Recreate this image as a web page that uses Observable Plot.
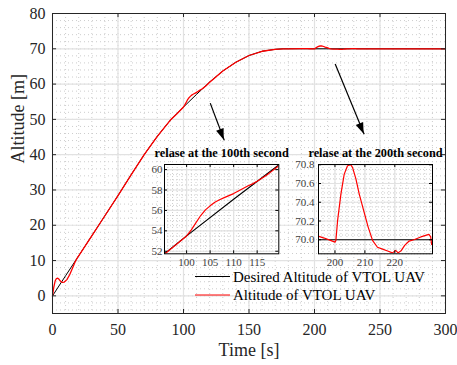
<!DOCTYPE html>
<html><head><meta charset="utf-8">
<script src="https://cdn.jsdelivr.net/npm/d3@7"></script>
<script src="https://cdn.jsdelivr.net/npm/@observablehq/plot@0.6"></script>
<style>
body{margin:0;background:#fff;}
#wrap{position:relative;width:457px;height:365px;overflow:hidden;font-family:"Liberation Serif","Times New Roman",serif;background:#fff;}
#wrap svg{position:absolute;}
</style></head><body><div id="wrap"></div>
<script>
// ---- data ----
const desiredT = [0,10,20,30,40,50,60,70,80,90,100,110,120,130,140,150,160,170,176,180,300];
const desiredY = [0,5.7,11.35,17.0,22.7,28.4,34.3,40.0,45.2,49.8,53.5,57.1,60.6,63.7,66.2,68.1,69.3,69.85,70,70,70];

const actualT = [0,1,2,3,4,5,6,7.5,9,11,13,15,17,19,20,30,40,50,60,70,80,90,95,100,101,102,103,104,105,106,107,108,109,110,111,112,113,114,115,116,117,118,119,120,130,140,150,160,170,176,180,190,194.6,196.4,198.7,200,200.3,200.9,202,203.1,204.2,205.3,205.9,207,208.1,209.6,211.1,212.6,214.2,215.9,217.6,219.2,220.3,221.1,222.2,223.3,224.8,226.4,228.7,231.4,232,232.3,235,240,245,250,255,260,270,280,290,300];
const actualY = [0,2.5,4.2,4.9,5.0,4.7,4.2,3.8,3.9,4.6,5.9,7.6,9.4,10.8,11.35,17.0,22.7,28.4,34.3,40.0,45.2,49.8,51.6,53.5,54.1,54.8,55.5,56.05,56.45,56.8,57.05,57.25,57.45,57.65,57.9,58.15,58.4,58.6,58.85,59.15,59.45,59.8,60.15,60.55,63.7,66.2,68.1,69.3,69.85,70.0,70.0,70.03,70.036,70.018,69.99,69.975,69.99,70.21,70.49,70.70,70.79,70.80,70.77,70.65,70.49,70.31,70.135,69.99,69.92,69.90,69.88,69.86,69.886,69.86,69.886,69.94,69.986,70.0,70.03,70.057,70.03,69.95,69.97,69.95,69.98,70.0,69.96,69.98,69.96,69.98,69.95,69.98];

const mainXTicks = [0,50,100,150,200,250,300];
const mainYTicks = [0,10,20,30,40,50,60,70,80];
const inset1XTicks = [100,105,110,115];
const inset1YTicks = [52,54,56,58,60];
const inset2XTicks = [200,210,220];
const inset2YTicks = [70,70.2,70.4,70.6,70.8];
const insetTitles = ["relase at the 100th second","relase at the 200th second"];
const legendLabels = ["Desired Altitude of VTOL UAV","Altitude of VTOL UAV"];
const axisLabels = ["Time [s]","Altitude [m]"];
// annotation arrows (in data coordinates of the main axes)
const arrowX1 = [120.4,215.8], arrowY1 = [54.6,65.7];
const arrowX2 = [131.1,237.9], arrowY2 = [44.1,45.8];

// ---- build ----
const desired = desiredT.map((t,i)=>({t, y:desiredY[i]}));
const actual = actualT.map((t,i)=>({t, y:actualY[i]}));
const arrows = arrowX1.map((x,i)=>({x1:x,y1:arrowY1[i],x2:arrowX2[i],y2:arrowY2[i]}));
const FONT = "Liberation Serif, Times New Roman, serif";
const wrap = document.getElementById("wrap");
const RED = "#ff0000", INK = "#262626";
const MINOR = "#cdcdcd", MAJOR = "#e2e2e2";

const mW = 457, mH = 365, mL = 52, mR = 12, mT = 13, mB = 52;
const fw = mW - mL - mR, fh = mH - mT - mB;
const main = Plot.plot({
  width: mW, height: mH, marginLeft: mL, marginRight: mR, marginTop: mT, marginBottom: mB,
  style: {background: "white", fontFamily: FONT, overflow: "visible", color: INK},
  x: {domain: [0,300]}, y: {domain: [-5,80]},
  marks: [
    Plot.gridX(d3.range(0,301,10), {stroke:MINOR, strokeOpacity:1, strokeDasharray:"1,3"}),
    Plot.gridY(d3.range(-4,81,2), {stroke:MINOR, strokeOpacity:1, strokeDasharray:"1,3"}),
    Plot.gridX(mainXTicks, {stroke:MAJOR, strokeOpacity:1, strokeWidth:1.2}),
    Plot.gridY(mainYTicks, {stroke:MAJOR, strokeOpacity:1, strokeWidth:1.2}),
    Plot.line(desired, {x:"t", y:"y", stroke:"#000", strokeWidth:1}),
    Plot.line(actual, {x:"t", y:"y", stroke:RED, strokeWidth:1.3}),
    Plot.frame({stroke:INK, strokeWidth:1}),
    Plot.tickX(mainXTicks, {x:d=>d, insetTop: fh-4, stroke:INK}),
    Plot.tickX(mainXTicks, {x:d=>d, insetBottom: fh-4, stroke:INK}),
    Plot.tickY(mainYTicks, {y:d=>d, insetRight: fw-4, stroke:INK}),
    Plot.tickY(mainYTicks, {y:d=>d, insetLeft: fw-4, stroke:INK}),
    Plot.axisX(mainXTicks, {tickSize:0, tickPadding:10, fontSize:16, label:null, fill:INK}),
    Plot.axisY(mainYTicks, {tickSize:0, tickPadding:7, fontSize:16, label:null, fill:INK}),
    Plot.link(arrows, {x1:"x1", y1:"y1", x2:"x2", y2:"y2", stroke:"#000", strokeWidth:1.2}),
    Plot.text([axisLabels[0]], {frameAnchor:"bottom", dy:42, fontSize:18, fill:INK, text:d=>d}),
    Plot.text([axisLabels[1]], {frameAnchor:"left", dx:-34, rotate:-90, fontSize:18, fill:INK, text:d=>d})
  ]
});
main.style.left = "0px"; main.style.top = "0px";
wrap.appendChild(main);

// filled arrowheads using the main plot's scales
{
  const sx = main.scale("x"), sy = main.scale("y");
  const g = d3.select(main).append("g").attr("fill","#000");
  for (const a of arrows) {
    const x1 = sx.apply(a.x1), y1 = sy.apply(a.y1), x2 = sx.apply(a.x2), y2 = sy.apply(a.y2);
    const dx = x2-x1, dy = y2-y1, L = Math.hypot(dx,dy), ux = dx/L, uy = dy/L;
    const hl = 11, hw = 4;
    const bx = x2-ux*hl, by = y2-uy*hl;
    g.append("path").attr("d", `M${x2},${y2}L${bx-uy*hw},${by+ux*hw}L${bx+uy*hw},${by-ux*hw}Z`);
  }
}

function inset({xd, yd, xt, yt, xminor, yminor, title, fx, fy, fwid, fhei, ml, mr, mt, mb, ypad}) {
  const p = Plot.plot({
    width: ml+fwid+mr, height: mt+fhei+mb, marginLeft: ml, marginRight: mr, marginTop: mt, marginBottom: mb,
    style: {background:"transparent", fontFamily: FONT, overflow:"visible", color:"#404040"},
    x: {domain: xd}, y: {domain: yd},
    marks: [
      Plot.frame({fill:"white"}),
      Plot.gridX(xminor, {stroke:MINOR, strokeOpacity:1, strokeDasharray:"1,2"}),
      Plot.gridY(yminor, {stroke:MINOR, strokeOpacity:1, strokeDasharray:"1,2"}),
      Plot.gridX(xt, {stroke:MAJOR, strokeOpacity:1, strokeWidth:1.2}),
      Plot.gridY(yt, {stroke:MAJOR, strokeOpacity:1, strokeWidth:1.2}),
      Plot.line(desired, {x:"t", y:"y", stroke:"#000", strokeWidth:1.1, clip:true}),
      Plot.line(actual, {x:"t", y:"y", stroke:RED, strokeWidth:1.2, clip:true}),
      Plot.frame({stroke:"#000", strokeWidth:1}),
      Plot.tickX(xt, {x:d=>d, insetTop: fhei-3, stroke:"#000"}),
      Plot.tickX(xt, {x:d=>d, insetBottom: fhei-3, stroke:"#000"}),
      Plot.tickY(yt, {y:d=>d, insetRight: fwid-3, stroke:"#000"}),
      Plot.tickY(yt, {y:d=>d, insetLeft: fwid-3, stroke:"#000"}),
      Plot.axisX(xt, {tickSize:0, tickPadding:4, fontSize:11, label:null, fill:"#404040"}),
      Plot.axisY(yt, {tickSize:0, tickPadding:ypad, fontSize:11, label:null, fill:"#404040"}),
      Plot.text([title], {frameAnchor:"top", dy:-16, fontSize:12.3, fontWeight:"bold", fill:"#000", text:d=>d})
    ]
  });
  p.style.left = (fx-ml)+"px"; p.style.top = (fy-mt)+"px";
  wrap.appendChild(p);
}
inset({xd:[95.3,119.6], yd:[51.75,60.5], xt:inset1XTicks, yt:inset1YTicks,
  xminor:d3.range(96,120,1), yminor:d3.range(52,60.51,0.5),
  title:insetTitles[0], fx:164, fy:164, fwid:114.3, fhei:89.3, ml:28, mr:16, mt:28, mb:18, ypad:2});
inset({xd:[194.5,232.6], yd:[69.85,70.803], xt:inset2XTicks, yt:inset2YTicks,
  xminor:d3.range(196,233,2), yminor:d3.range(69.85,70.81,0.05),
  title:insetTitles[1], fx:317.7, fy:164, fwid:114, fhei:89.3, ml:30, mr:16, mt:28, mb:18, ypad:4});

// legend
{
  const svg = d3.select(wrap).append("svg").attr("width",457).attr("height",365)
    .style("left","0px").style("top","0px").style("pointer-events","none");
  const rows = [{y:276.5, c:"#000"}, {y:295, c:RED}];
  rows.forEach((r,i)=>{
    svg.append("line").attr("x1",195).attr("x2",230).attr("y1",r.y).attr("y2",r.y)
      .attr("stroke",r.c).attr("stroke-width",1.2);
    svg.append("text").attr("x",233).attr("y",r.y+5).attr("font-family",FONT)
      .attr("font-size",15).attr("fill","#000").text(legendLabels[i]);
  });
}
</script></body></html>
